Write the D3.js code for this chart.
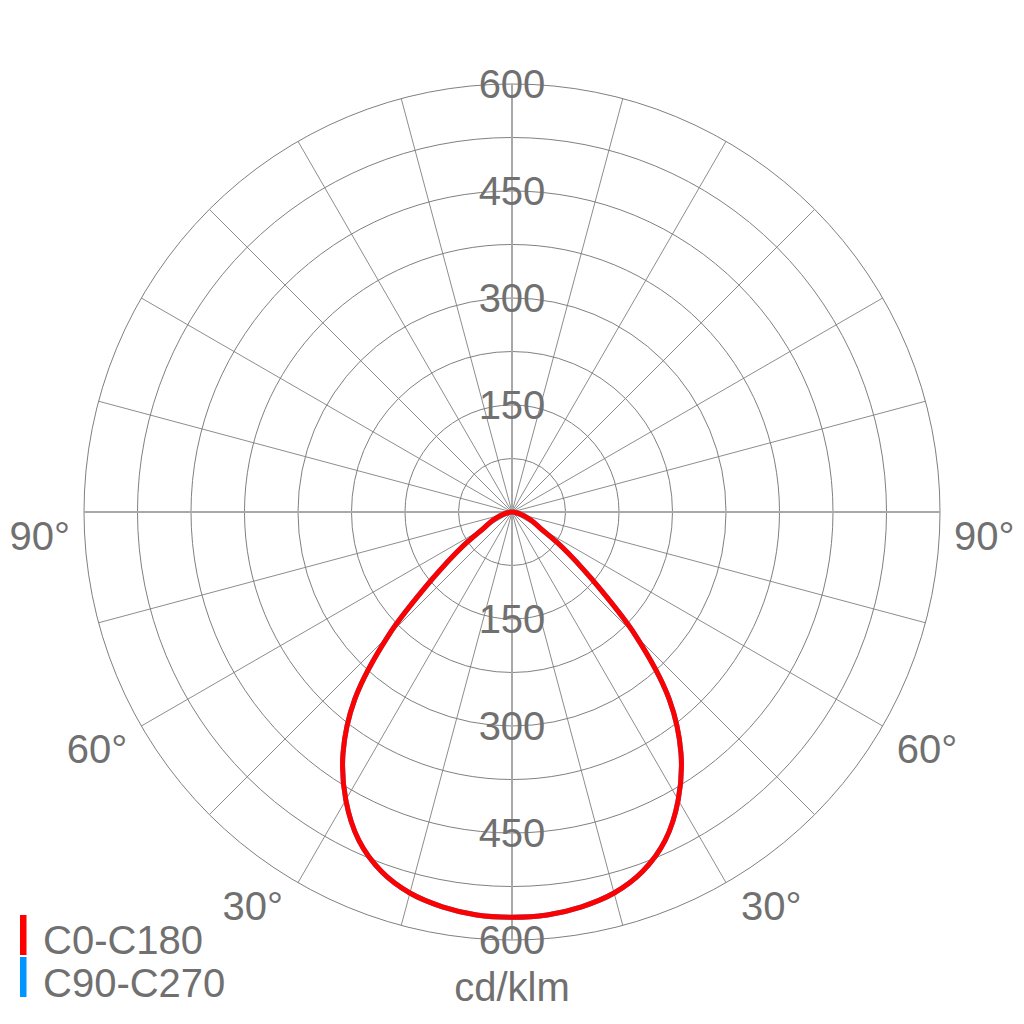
<!DOCTYPE html>
<html>
<head lang="en">
    <meta charset="UTF-8">
    <title>Polar LDC</title>
    <style>
        body { margin: 0; background: #fff; }
        text { font-family: "Liberation Sans", Arial, sans-serif; fill: #707070; }
    </style>
</head>
<body>
<div id="chart"></div>

<script src="https://cdnjs.cloudflare.com/ajax/libs/d3/7.8.5/d3.min.js"></script>
<script>
// gamma angles (deg from nadir), one half of the plane; curve is symmetric
var gammas = [0, 5, 10, 15, 20, 25, 30, 35, 40, 45, 50, 55, 60, 65, 70, 75, 80, 85, 90];
// cd/klm
var c0c180 = [568, 567, 562, 553, 536, 508, 466, 413, 343, 245, 145, 86, 47, 33, 22, 13, 6, 2, 0];
var c90c270 = [568, 567, 562, 553, 536, 508, 466, 413, 343, 245, 145, 86, 47, 33, 22, 13, 6, 2, 0];

var ringValues = [75, 150, 225, 300, 375, 450, 525, 600];
var ringLabels = [150, 300, 450, 600];
var angleLabels = [30, 60, 90];
var seriesNames = ["C0-C180", "C90-C270"];
var seriesColors = ["#ff0000", "#0096ff"];

var width = 1024, height = 1024;
var cx = 512, cy = 512;

var svg = d3.select("#chart").append("svg")
        .attr("width", width)
        .attr("height", height);

var r = d3.scaleLinear().domain([0, 600]).range([0, 428]);

var g = svg.append("g")
        .attr("transform", "translate(" + cx + "," + cy + ")");

// rings
g.append("g")
        .selectAll("circle")
        .data(ringValues)
        .enter().append("circle")
        .attr("r", function (d) { return r(d); })
        .attr("fill", "none")
        .attr("stroke", "#808080")
        .attr("stroke-width", 1);

// spokes every 15 deg (the main axes are drawn separately)
var spokes = d3.range(0, 360, 15).filter(function (a) { return a % 90 != 0; });
g.append("g")
        .selectAll("line")
        .data(spokes)
        .enter().append("line")
        .attr("x1", 0).attr("y1", 0)
        .attr("x2", function (a) { return r(600) * Math.sin(a * Math.PI / 180); })
        .attr("y2", function (a) { return -r(600) * Math.cos(a * Math.PI / 180); })
        .attr("stroke", "#808080")
        .attr("stroke-width", 0.9);

g.append("g")
        .selectAll("line")
        .data([0, 90])
        .enter().append("line")
        .attr("x1", function (a) { return -r(600) * Math.sin(a * Math.PI / 180); })
        .attr("y1", function (a) { return r(600) * Math.cos(a * Math.PI / 180); })
        .attr("x2", function (a) { return r(600) * Math.sin(a * Math.PI / 180); })
        .attr("y2", function (a) { return -r(600) * Math.cos(a * Math.PI / 180); })
        .attr("stroke", "#a8a8a8")
        .attr("stroke-width", 2);

// value labels, up and down the vertical axis
var vl = g.append("g").attr("font-size", 40).attr("text-anchor", "middle");
ringLabels.forEach(function (v) {
    [-1, 1].forEach(function (s) {
        vl.append("text")
                .attr("x", 0)
                .attr("y", s * r(v))
                .attr("dy", "0.36em")
                .text(v);
    });
});

// angle labels outside the circle; small nudges so they sit like the original
var nudge = { 30: [8, 25], 60: [2, 30], 90: [0, 38] };
var al = g.append("g").attr("font-size", 40);
angleLabels.forEach(function (a) {
    [-1, 1].forEach(function (s) {
        var rad = a * Math.PI / 180;
        al.append("text")
                .attr("x", s * (442 * Math.sin(rad) + nudge[a][0]))
                .attr("y", 442 * Math.cos(rad) + nudge[a][1])
                .attr("text-anchor", s < 0 ? "end" : "start")
                .text(a + "\u00b0");
    });
});

// build full curve: left half (negative gamma) then right half
function curvePoints(vals) {
    var pts = [];
    for (var i = gammas.length - 1; i > 0; i--) pts.push([-gammas[i], vals[i]]);
    for (var j = 0; j < gammas.length; j++) pts.push([gammas[j], vals[j]]);
    return pts;
}

var line = d3.lineRadial()
        .angle(function (d) { return Math.PI - d[0] * Math.PI / 180; })
        .radius(function (d) { return r(d[1]); })
        .curve(d3.curveCatmullRom);

// blue first, red on top
[c90c270, c0c180].forEach(function (vals, i) {
    g.append("path")
            .attr("d", line(curvePoints(vals)))
            .attr("fill", "none")
            .attr("stroke", seriesColors[1 - i])
            .attr("stroke-width", 5)
            .attr("stroke-linejoin", "round");
});

// legend
var lg = svg.append("g").attr("font-size", 40);
seriesNames.forEach(function (name, i) {
    lg.append("rect")
            .attr("x", 20)
            .attr("y", 915 + i * 42)
            .attr("width", 6.5)
            .attr("height", 40)
            .attr("fill", seriesColors[i]);
    lg.append("text")
            .attr("x", 43)
            .attr("y", 954 + i * 43)
            .text(name);
});

svg.append("text")
        .attr("x", cx)
        .attr("y", 1001)
        .attr("text-anchor", "middle")
        .attr("font-size", 40)
        .text("cd/klm");
</script>
</body>
</html>
